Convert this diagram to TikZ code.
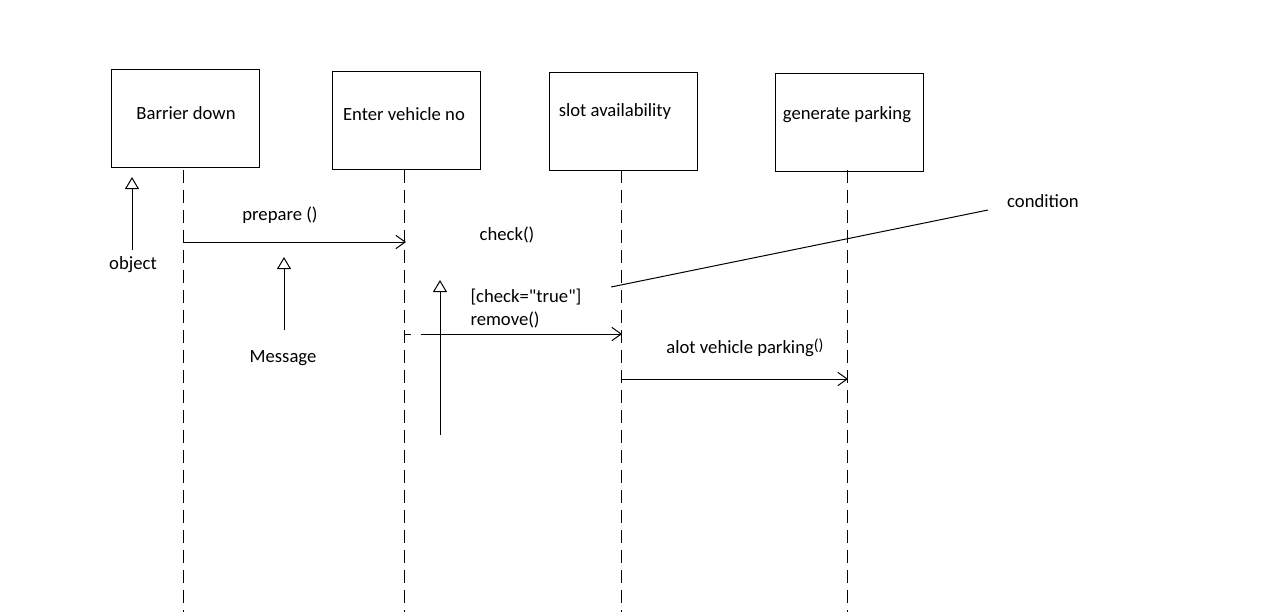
\documentclass[tikz,border=0pt]{standalone}
\usepackage{fontspec}
\setmainfont{Carlito}
\usetikzlibrary{arrows.meta}
\begin{document}
\begin{tikzpicture}[x=0.75pt,y=-0.75pt,line width=0.75pt,
  font=\fontsize{14}{17}\selectfont,
  objbox/.style={draw,minimum width=111pt,minimum height=73pt,inner sep=0pt},
  lifeline/.style={dash pattern=on 10pt off 5pt},
  msg/.style={-{Straight Barb[length=7pt,width=10pt]}},
  note/.style={-{Triangle[open,length=9pt,width=10.5pt]}}]
  \useasboundingbox (0,0) rectangle (1282,612);
  % objects
  \node[objbox] (barrier) at (185,118.5) {};
  \node[objbox] (enter) at (406,120.5) {};
  \node[objbox] (slot) at (623,121.5) {};
  \node[objbox] (generate) at (849,122.5) {};
  \node (barrierTxt) at (186,113) {Barrier down};
  \node (enterTxt) at (404,114) {Enter vehicle no};
  \node (slotTxt) at (615,112) {slot availability};
  \node (generateTxt) at (847,115) {generate parking};
  % lifelines
  \foreach \obj/\x in {barrier/183,enter/404,slot/621,generate/847} {
    \coordinate (\obj Top) at (\x,170);
    \coordinate (\obj End) at (\x,612);
    \draw[lifeline] (\obj Top) -- (\obj End);
  }
  % messages
  \coordinate (prepFrom) at (183,242);
  \coordinate (prepTo) at (406,242);
  \draw[msg] (prepFrom) -- (prepTo);
  \node (prepLbl) at (280,215) {prepare ()};
  \node (checkLbl) at (507,235) {check()};
  \coordinate (remFrom) at (404,334);
  \coordinate (remTo) at (622,334);
  \draw[msg,dash pattern=on 5pt off 7.5pt on 400pt off 1pt] (remFrom) -- (remTo);
  \node[anchor=west,align=left,inner sep=0pt] (remLbl) at (470,308.5)
    {[check=\textquotedbl true\textquotedbl]\\remove()};
  \coordinate (alotFrom) at (621,379);
  \coordinate (alotTo) at (848,379);
  \draw[msg] (alotFrom) -- (alotTo);
  \node (alotLbl) at (745,348)
    {alot vehicle parking\raisebox{2.5pt}{\fontsize{12}{12}\selectfont()}};
  % notes
  \coordinate (objTail) at (132,250);
  \coordinate (objTip) at (132,177);
  \draw[note] (objTail) -- (objTip);
  \node (objLbl) at (133,265) {object};
  \coordinate (msgTail) at (284,330);
  \coordinate (msgTip) at (284,257);
  \draw[note] (msgTail) -- (msgTip);
  \node (msgLbl) at (283,358) {Message};
  \coordinate (actTail) at (440,435);
  \coordinate (actTip) at (440,280);
  \draw[note] (actTail) -- (actTip);
  % condition
  \coordinate (condFrom) at (611,287);
  \coordinate (condTo) at (988,210);
  \draw (condFrom) -- (condTo);
  \node (condLbl) at (1043,201) {condition};
\end{tikzpicture}
\end{document}
